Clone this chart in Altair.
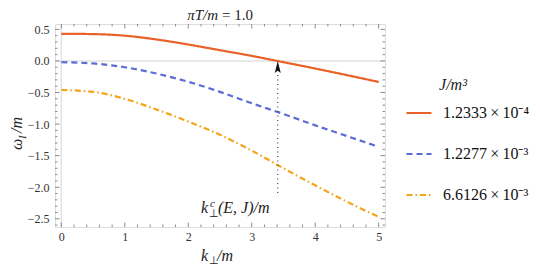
import altair as alt
import pandas as pd

# ---------------- data ----------------
k = [0, 0.5, 1, 1.5, 2, 2.5, 3, 3.5, 4, 4.5, 5]
w_a = [0.43, 0.425, 0.40, 0.34, 0.26, 0.17, 0.08, -0.02, -0.12, -0.225, -0.333]
w_b = [-0.02, -0.04, -0.10, -0.20, -0.33, -0.49, -0.67, -0.84, -1.02, -1.19, -1.36]
w_c = [-0.46, -0.49, -0.60, -0.77, -0.96, -1.17, -1.42, -1.70, -1.97, -2.23, -2.47]
series = ["1.2333\u2009×\u200910⁻⁴", "1.2277\u2009×\u200910⁻³", "6.6126\u2009×\u200910⁻³"]
colors = ["#e8622a", "#5b6dd4", "#f4a418"]
dashes = [[1, 0], [6, 4], [6, 3, 1.5, 3]]

x_major = [0, 1, 2, 3, 4, 5]
x_minor = [0.2, 0.4, 0.6, 0.8, 1.2, 1.4, 1.6, 1.8, 2.2, 2.4, 2.6, 2.8,
           3.2, 3.4, 3.6, 3.8, 4.2, 4.4, 4.6, 4.8]
y_major = [-2.5, -2.0, -1.5, -1.0, -0.5, 0.0, 0.5]
y_minor = [-2.6, -2.4, -2.3, -2.2, -2.1, -1.9, -1.8, -1.7, -1.6, -1.4, -1.3, -1.2, -1.1,
           -0.9, -0.8, -0.7, -0.6, -0.4, -0.3, -0.2, -0.1, 0.1, 0.2, 0.3, 0.4]

kc = 3.41           # crossing point k_perp^c
kc_low = -2.09      # bottom of dotted marker
kc_high = -0.19     # top of dotted marker (arrow base)
arrow_y = -0.095    # arrow centre

W, H = 330, 203
FONT = "Liberation Serif"
FRAME = "#8a8a8a"

rows = []
for name, ws in zip(series, [w_a, w_b, w_c]):
    for kk, ww in zip(k, ws):
        rows.append({"k": kk, "w": ww, "J": name})
df = pd.DataFrame(rows)

xscale = alt.Scale(domain=[-0.1, 5.1], nice=False, zero=False)
yscale = alt.Scale(domain=[-2.63, 0.585], nice=False, zero=False)

X = alt.X("k:Q", scale=xscale, axis=alt.Axis(
    values=x_major, ticks=False, domain=False, grid=False, title=None,
    labelFont=FONT, labelFontSize=12, labelColor="#333", labelPadding=4))
Y = alt.Y("w:Q", scale=yscale, axis=alt.Axis(
    values=y_major, ticks=False, domain=False, grid=False, title=None, format=".1f",
    labelExpr="replace(datum.label, '-', '−')",
    labelFont=FONT, labelFontSize=12, labelColor="#333", labelPadding=6))

# ---------------- layers ----------------
zero_h = alt.Chart(pd.DataFrame({"w": [0.0]})).mark_rule(color="#e2e2e2", strokeWidth=1.5).encode(y=Y)
zero_v = alt.Chart(pd.DataFrame({"k": [0.0]})).mark_rule(color="#e2e2e2", strokeWidth=1.5).encode(x=X)


def xticks(vals, length, top):
    d = pd.DataFrame({"k": vals})
    y0, y1 = (0, length) if top else (H, H - length)
    return alt.Chart(d).mark_rule(color=FRAME, strokeWidth=1).encode(
        x=X, y=alt.value(y0), y2=alt.value(y1))


def yticks(vals, length, right):
    d = pd.DataFrame({"w": vals})
    x0, x1 = (W, W - length) if right else (0, length)
    return alt.Chart(d).mark_rule(color=FRAME, strokeWidth=1).encode(
        y=Y, x=alt.value(x0), x2=alt.value(x1))


ticks = [
    xticks(x_major, 4.5, False), xticks(x_major, 4.5, True),
    xticks(x_minor, 2.5, False), xticks(x_minor, 2.5, True),
    yticks(y_major, 4.5, False), yticks(y_major, 4.5, True),
    yticks(y_minor, 2.5, False), yticks(y_minor, 2.5, True),
]

legend = alt.Legend(
    orient="none", legendX=350, legendY=75, title=None,
    symbolType="stroke", symbolSize=625, symbolStrokeWidth=2.2,
    labelFont=FONT, labelFontSize=16, labelColor="#111", labelOffset=10,
    rowPadding=19, labelLimit=200,
)

lines = alt.Chart(df).mark_line(strokeWidth=2.2, interpolate="monotone").encode(
    x=X, y=Y,
    color=alt.Color("J:N", scale=alt.Scale(domain=series, range=colors), legend=legend),
    strokeDash=alt.StrokeDash("J:N", scale=alt.Scale(domain=series, range=dashes), legend=legend),
)

dot = alt.Chart(pd.DataFrame({"k": [kc], "w": [kc_low], "w2": [kc_high]})).mark_rule(
    color="#444", strokeWidth=1.2, strokeDash=[1, 3.5]).encode(x=X, y=Y, y2="w2:Q")

arrow = alt.Chart(pd.DataFrame({"k": [kc], "w": [arrow_y]})).mark_point(
    shape="M0,-1L0.5,1L0,0.65L-0.5,1Z", filled=True, size=144, color="#111", opacity=1).encode(
    x=X, y=Y)


def txt(s, x, y, size=15, style="italic", angle=0, align="left", baseline="alphabetic", color="#222"):
    return alt.Chart(pd.DataFrame({"s": [s]})).mark_text(
        font=FONT, fontSize=size, fontStyle=style, angle=angle, align=align,
        baseline=baseline, color=color).encode(
        x=alt.value(x), y=alt.value(y), text="s:N")


texts = [
    # title
    txt("πT/m", 163, -4, size=15, align="right"),
    txt("= 1.0", 167, -4, size=15, style="normal"),
    # x axis title
    txt("k", 146, 237, size=16),
    txt("⊥", 154, 240, size=11, style="normal"),
    txt("/m", 162, 237, size=16),
    # y axis title (rotated)
    txt("ω", -33, 126, size=16, angle=270),
    txt("I", -29, 115, size=11, angle=270),
    txt("/m", -33, 109, size=16, angle=270),
    # annotation
    txt("k", 146, 189, size=16),
    txt("c", 155, 183, size=11),
    txt("⊥", 154, 193, size=11, style="normal"),
    txt("(E, J)/m", 163, 189, size=16),
    # legend title
    txt("J/m³", 398, 66, size=16, align="center"),
]

chart = alt.layer(zero_h, zero_v, *ticks, lines, dot, arrow, *texts).properties(
    width=W, height=H,
    autosize=alt.AutoSizeParams(type="none"),
    padding={"left": 47, "top": 16, "right": 147, "bottom": 40},
).configure_view(stroke=FRAME, strokeWidth=1).configure(background="white")

chart.save("out.html", embed_options={"renderer": "svg", "actions": False})
